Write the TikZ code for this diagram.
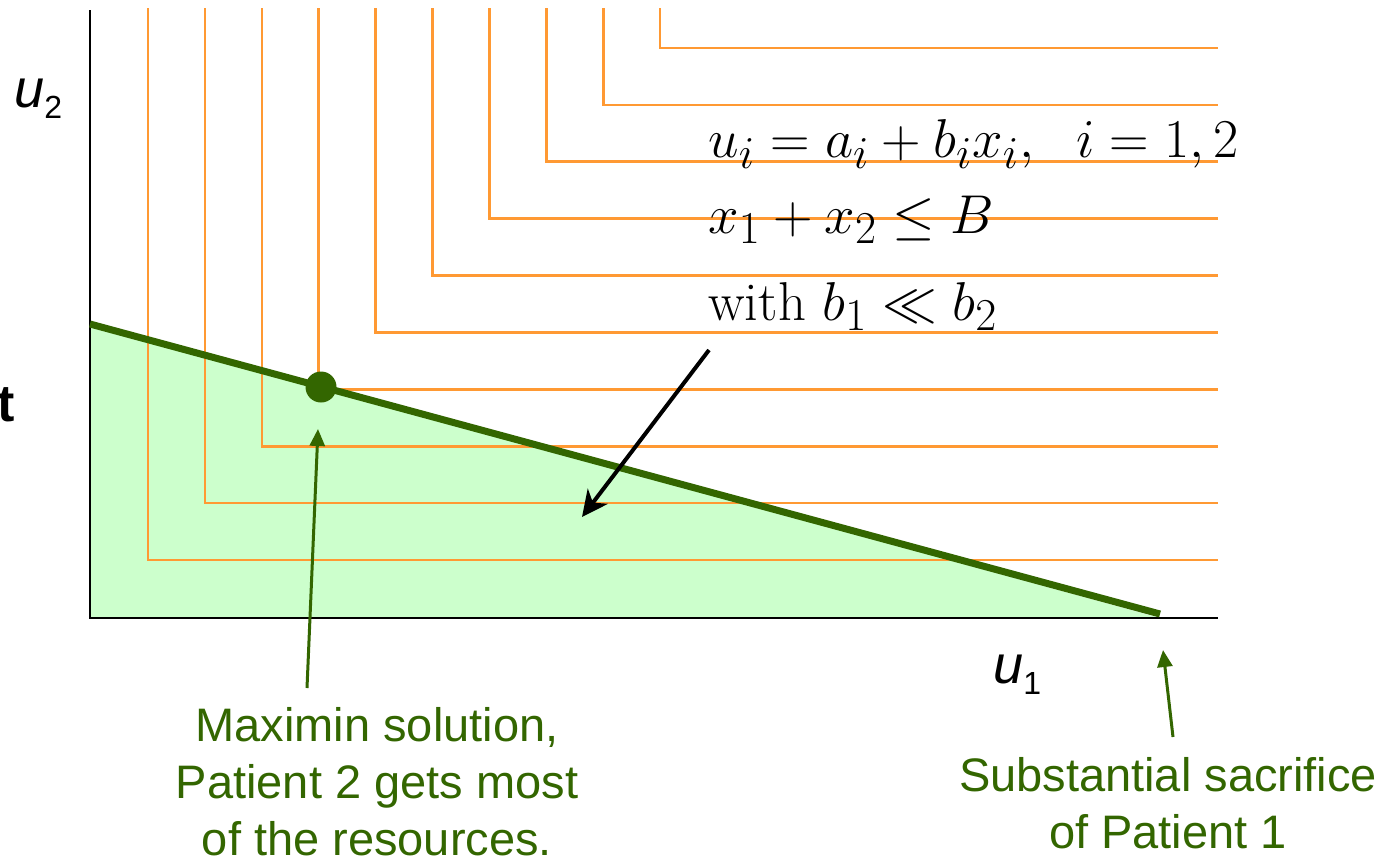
\documentclass[tikz,border=0pt]{standalone}
\usepackage{graphicx}
\usepackage{fontspec}
\setsansfont{Liberation Sans}
\usetikzlibrary{arrows.meta, positioning}
\definecolor{FrontierGreen}{RGB}{51, 102, 0}
\definecolor{RegionGreen}{RGB}{204, 255, 204}
\definecolor{LevelOrange}{RGB}{255, 153, 51}
\newcommand{\eqtext}[1]{\scalebox{1.1}{#1}}

\begin{document}
\begin{tikzpicture}[x=0.5pt, y=-0.5pt,
    levelset/.style={LevelOrange, line width=1.3pt},
    greenlabel/.style={FrontierGreen, font=\sffamily\fontsize{23.5}{28.5}\selectfont, align=center},
    greenarrow/.style={FrontierGreen, line width=1.5pt, -{Triangle[length=8.5pt, width=7.5pt]}},
    eqline/.style={anchor=base west, inner sep=0pt, font=\fontsize{24.88}{30}\selectfont},
    axislabel/.style={anchor=base west, inner sep=0pt, font=\sffamily\fontsize{27}{30}\selectfont}]

    \useasboundingbox (0,0) rectangle (1392,863);

    % --- Feasible Region ---
    \fill[RegionGreen] (90,324) -- (1160,618) -- (90,618) -- cycle;

    % --- Level Sets (Maximin Contours) ---
    \foreach \k in {0,...,9} {
        \pgfmathsetmacro{\cx}{148+56.9*\k}
        \pgfmathsetmacro{\cy}{560-56.9*\k}
        \draw[levelset] (\cx, 8) -- (\cx, \cy) -- (1218, \cy);
    }

    % --- Axes ---
    \draw[line width=1pt] (90,10) -- (90,618) -- (1218,618);
    \node[axislabel] (uTwo) at (14,107) {\itshape u\raisebox{-5.5pt}{\upshape\fontsize{16}{16}\selectfont 2}};
    \node[axislabel] (uOne) at (993,683) {\itshape u\raisebox{-5.5pt}{\upshape\fontsize{16}{16}\selectfont 1}};
    \node[anchor=base east, inner sep=0pt, font=\sffamily\bfseries\fontsize{26}{28}\selectfont] (cutT) at (15,421) {t};

    % --- Frontier ---
    \draw[FrontierGreen, line width=3.5pt] (90,324) -- (1160,614);
    \node[circle, fill=FrontierGreen, minimum size=15.5pt, inner sep=0pt] (maximin) at (321,387) {};

    % --- Model ---
    \node[eqline] (utility) at (708,157) {\eqtext{$u_i = a_i + b_i x_i,\ \ i = 1,2$}};
    \node[eqline] (budget) at (708,233) {\eqtext{$x_1 + x_2 \leq B$}};
    \node[eqline] (slope) at (708,320) {\eqtext{with $b_1 \ll b_2$}};

    \coordinate (slopeFoot) at (709,350);
    \coordinate (regionPoint) at (582,517);
    \draw[line width=2pt, -{Stealth[length=13pt, width=12.5pt, inset=4pt]}] (slopeFoot) -- (regionPoint);

    % --- Annotations ---
    \node[greenlabel] (maximinText) at (377,782) {Maximin solution,\\Patient 2 gets most\\of the resources.};
    \node[greenlabel] (sacrificeText) at (1168,803) {Substantial sacrifice\\of Patient 1};

    \coordinate (maximinFoot) at (307,688);
    \coordinate (maximinTip) at (318,429);
    \coordinate (sacrificeFoot) at (1173,737);
    \coordinate (sacrificeTip) at (1163,650);
    \draw[greenarrow] (maximinFoot) -- (maximinTip);
    \draw[greenarrow] (sacrificeFoot) -- (sacrificeTip);

\end{tikzpicture}
\end{document}
